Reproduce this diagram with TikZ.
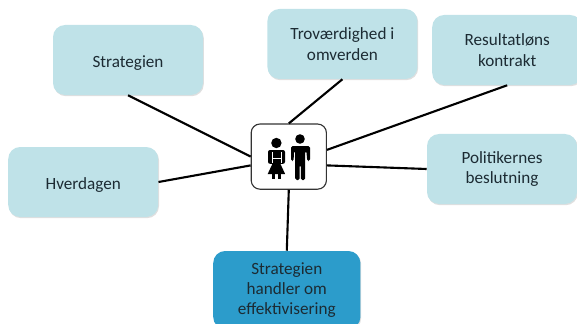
\documentclass[tikz,border=0pt]{standalone}
\usepackage{fontspec}
\setmainfont{Carlito}
\usetikzlibrary{shadows}
\definecolor{paleblue}{HTML}{BFE2E8}
\definecolor{strongblue}{HTML}{2C9CCB}
\definecolor{inktext}{HTML}{1C2B33}
\tikzset{
  topic/.style={rectangle,rounded corners=0.3cm,fill=paleblue,text=inktext,align=center,
    minimum width=3.75cm,minimum height=1.75cm,
    font=\fontsize{12.2}{14.5}\selectfont,
    execute at begin node={\rule{0pt}{0.44cm}},
    drop shadow={shadow xshift=0.02cm,shadow yshift=-0.03cm,opacity=0.25}},
  link/.style={draw=black,line width=1.5pt},
  figure/.style={fill=black,draw=none}
}
\begin{document}
\begin{tikzpicture}
\useasboundingbox (0,0) rectangle (14.425,8.075);

\node[topic] (strategien) at (3.2,6.575) {Strategien};
\node[topic] (trovaerdighed) at (8.56,6.975) {Troværdighed i\\omverden};
\node[topic] (resultat) at (12.68,6.825) {Resultatløns\\kontrakt};
\node[topic] (politik) at (12.55,3.85) {Politikernes\\beslutning};
\node[topic] (hverdagen) at (2.08,3.525) {Hverdagen};
\node[topic,fill=strongblue,minimum width=3.68cm,minimum height=1.95cm] (effektiv) at (7.17,0.825)
  {Strategien\\handler om\\effektivisering};
\node[rectangle,draw=black!80,fill=white,rounded corners=0.22cm,line width=0.8pt,
    minimum width=1.88cm,minimum height=1.63cm] (hub) at (7.22,4.16) {};

\draw[link] (strategien.south) -- (hub.west);
\draw[link] (hverdagen.east) -- (hub.193);
\draw[link] (trovaerdighed.south) -- (hub.north);
\draw[link] (resultat.south) -- (hub.10);
\draw[link] (politik.west) -- (hub.-13);
\draw[link] (effektiv.north) -- (hub.south);

% woman
\fill[figure] (6.91,4.5) circle (0.13);
\fill[figure,rounded corners=0.05cm] (6.7,4.325) rectangle (7.125,3.98);
\fill[figure] (6.82,4) -- (7,4) -- (7.13,3.72) -- (6.69,3.72) -- cycle;
\fill[figure] (6.8,3.73) rectangle (6.88,3.6);
\fill[figure] (6.94,3.73) rectangle (7.02,3.6);
\draw[white,line width=0.35pt] (6.8,4.27) -- (6.8,3.99) (7.025,4.27) -- (7.025,3.99) (6.8,4.12) -- (7.025,4.12);
% man
\fill[figure] (7.5,4.6) circle (0.12);
\fill[figure,rounded corners=0.04cm] (7.275,4.425) -- (7.75,4.425) -- (7.75,4.05) -- (7.68,4.05) -- (7.66,4.3)
  -- (7.63,4.3) -- (7.63,3.575) -- (7.52,3.575) -- (7.52,3.95) -- (7.49,3.95) -- (7.49,3.575) -- (7.38,3.575)
  -- (7.38,4.3) -- (7.35,4.3) -- (7.34,4.05) -- (7.275,4.05) -- cycle;
\end{tikzpicture}
\end{document}
